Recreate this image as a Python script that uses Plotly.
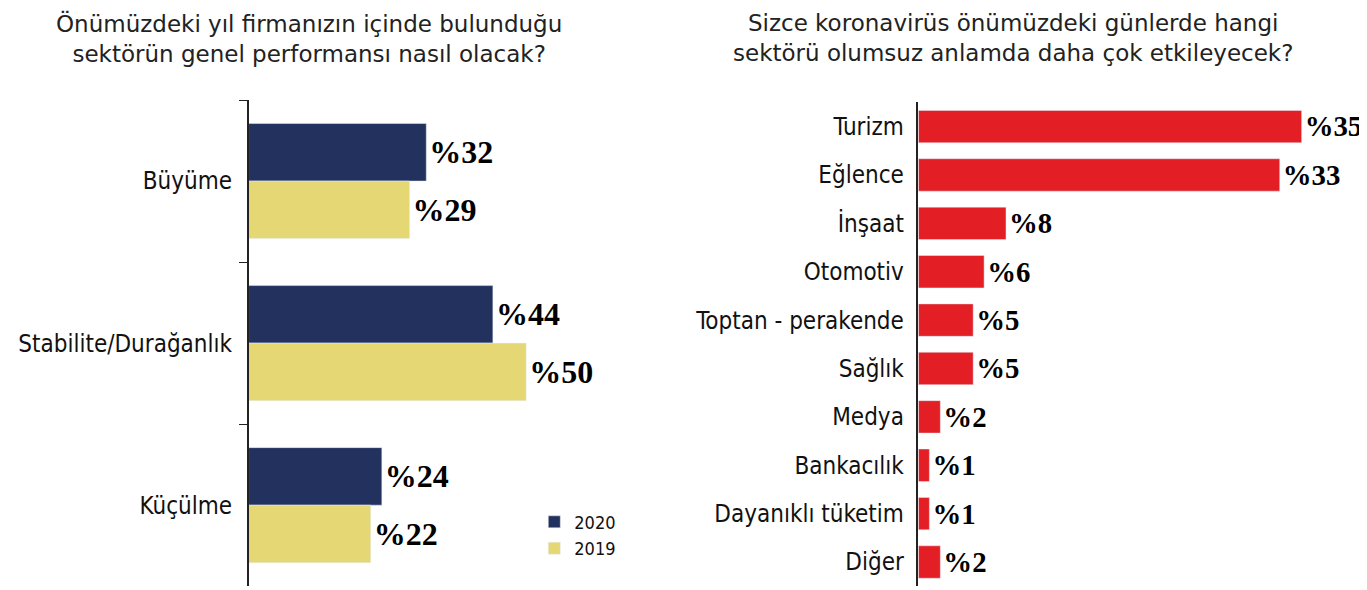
import plotly.graph_objects as go

left_cats = ["Büyüme", "Stabilite/Durağanlık", "Küçülme"]
v2020 = [32, 44, 24]
v2019 = [29, 50, 22]
right_cats = ["Turizm", "Eğlence", "İnşaat", "Otomotiv", "Toptan - perakende", "Sağlık",
              "Medya", "Bankacılık", "Dayanıklı tüketim", "Diğer"]
right_vals = [35, 33, 8, 6, 5, 5, 2, 1, 1, 2]

NAVY = "#22315e"; YEL = "#e5d774"; RED = "#e31e24"
valfont = dict(family="Liberation Sans Narrow", size=32, color="black")
lab = "DejaVu Sans Condensed"

fig = go.Figure()
fig.add_bar(y=left_cats, x=v2020, orientation="h", name="2020", marker_color=NAVY,
            text=["<b>%" + str(v) + "</b>" for v in v2020], textposition="outside",
            textfont=valfont, cliponaxis=False, xaxis="x", yaxis="y")
fig.add_bar(y=left_cats, x=v2019, orientation="h", name="2019", marker_color=YEL,
            text=["<b>%" + str(v) + "</b>" for v in v2019], textposition="outside",
            textfont=valfont, cliponaxis=False, xaxis="x", yaxis="y")
fig.add_bar(y=right_cats, x=right_vals, orientation="h", marker_color=RED, width=0.67,
            text=["<b>%" + str(v) + "</b>" for v in right_vals], textposition="outside",
            textfont=valfont, cliponaxis=False, showlegend=False, xaxis="x2", yaxis="y2")

fig.update_layout(
    width=1367, height=590, margin=dict(l=0, r=0, t=0, b=0),
    plot_bgcolor="white", paper_bgcolor="white",
    barmode="group", bargap=0.29, bargroupgap=0,
    xaxis=dict(domain=[0.176, 0.44], range=[0, 65], visible=False),
    yaxis=dict(domain=[0.02, 0.844], autorange="reversed", type="category",
               tickson="boundaries", ticks="outside", ticklen=8, tickcolor="#222",
               showline=True, linecolor="#222", linewidth=1.5,
               tickfont=dict(family=lab, size=24, color="#111"), ticklabelstandoff=10),
    xaxis2=dict(domain=[0.666, 1.0], range=[0, 41.7], visible=False),
    yaxis2=dict(domain=[0.02, 0.84], autorange="reversed", type="category", anchor="x2",
                ticks="", showline=True, linecolor="#222", linewidth=1.5,
                tickfont=dict(family=lab, size=24, color="#111"), ticklabelstandoff=8),
    legend=dict(x=0.385, y=0.16, xanchor="left", yanchor="top", bgcolor="rgba(0,0,0,0)",
                font=dict(family=lab, size=18, color="#111"), itemwidth=30),
    showlegend=True,
    annotations=[
        dict(text="Önümüzdeki yıl firmanızın içinde bulunduğu<br>sektörün genel performansı nasıl olacak?",
             x=0.22, y=1.0, xref="paper", yref="paper", xanchor="center", yanchor="top",
             showarrow=False, align="center", font=dict(family="DejaVu Sans", size=23, color="#222")),
        dict(text="Sizce koronavirüs önümüzdeki günlerde hangi<br>sektörü olumsuz anlamda daha çok etkileyecek?",
             x=0.735, y=1.0, xref="paper", yref="paper", xanchor="center", yanchor="top",
             showarrow=False, align="center", font=dict(family="DejaVu Sans", size=23, color="#222")),
    ],
)
fig.write_html("out.html")
